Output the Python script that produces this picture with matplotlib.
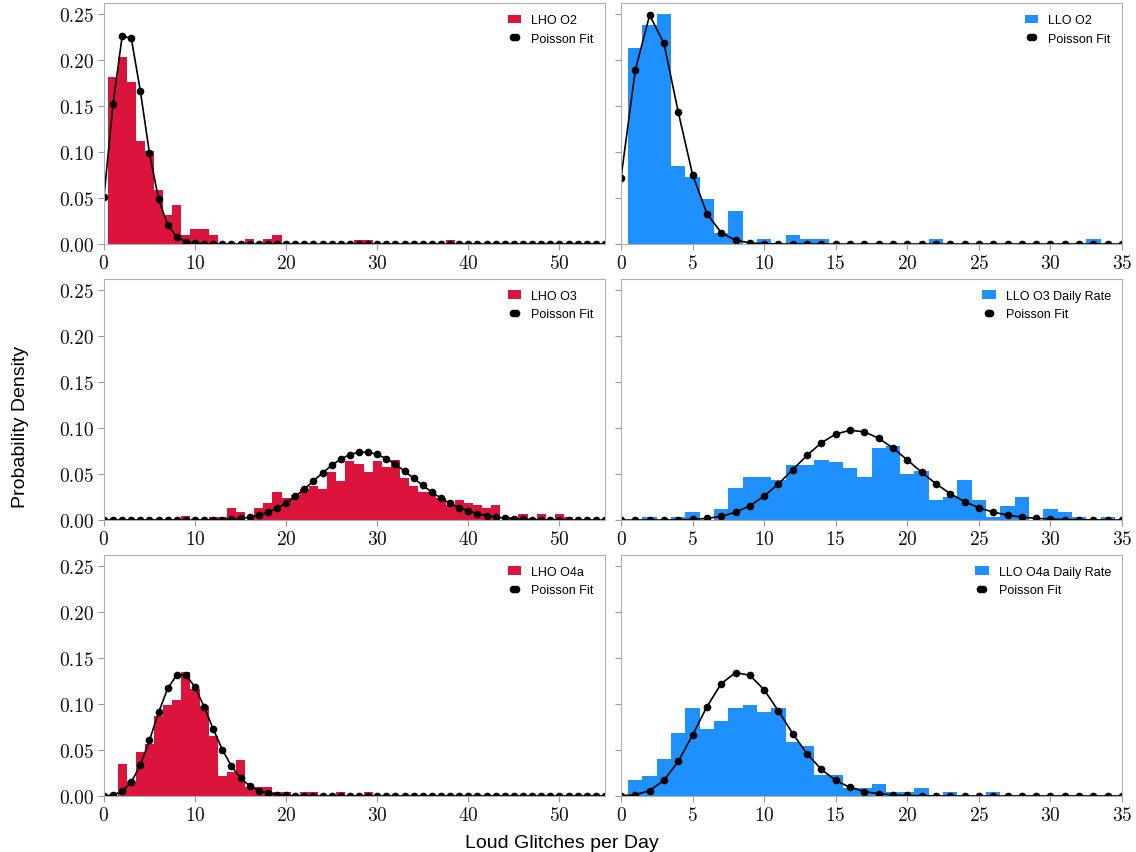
import numpy as np
import matplotlib
matplotlib.use("Agg")
import matplotlib.pyplot as plt
from matplotlib.legend_handler import HandlerLine2D

# daily loud-glitch histograms (density per integer day count, starting at 0)
lho_o2 = [0, 0.182, 0.204, 0.177, 0.112, 0.101, 0.059, 0.032, 0.043, 0.010,
          0.016, 0.016, 0.010, 0, 0, 0, 0.005, 0, 0.005, 0.010,
          0, 0, 0, 0, 0, 0, 0, 0, 0.004, 0.004,
          0, 0, 0, 0, 0, 0, 0, 0, 0.004]
llo_o2 = [0, 0.214, 0.239, 0.250, 0.0855, 0.0735, 0.049, 0.012, 0.036, 0,
          0.005, 0, 0.010, 0.005, 0.005, 0, 0, 0, 0, 0,
          0, 0, 0.005, 0, 0, 0, 0, 0, 0, 0,
          0, 0, 0, 0.005]
lho_o3 = [0, 0, 0, 0, 0, 0, 0, 0, 0, 0.004,
          0, 0, 0.003, 0.003, 0.013, 0.009, 0, 0.013, 0.0185, 0.030,
          0.024, 0.027, 0.034, 0.037, 0.034, 0.052, 0.043, 0.064, 0.0615, 0.052,
          0.064, 0.058, 0.065, 0.046, 0.037, 0.031, 0.031, 0.024, 0.016, 0.022,
          0.0185, 0.016, 0.013, 0.016, 0, 0.003, 0.006, 0, 0.006, 0,
          0.006, 0.003]
llo_o3 = [0, 0, 0.003, 0, 0.003, 0.009, 0, 0.012, 0.0345, 0.047,
          0.047, 0.0436, 0.0596, 0.0596, 0.0655, 0.063, 0.0564, 0.047, 0.078, 0.0807,
          0.050, 0.0535, 0.022, 0.025, 0.0436, 0.022, 0.003, 0.015, 0.025, 0,
          0.012, 0.009, 0.003, 0, 0.003]
lho_o4a = [0, 0, 0.0349, 0.0167, 0.0483, 0.0566, 0.0868, 0.0995, 0.104, 0.135,
           0.117, 0.0977, 0.065, 0.0218, 0.0258, 0.039, 0.0094, 0.0094, 0.0094, 0.0047,
           0.0047, 0, 0.0047, 0.0047, 0, 0, 0.0047, 0, 0, 0.0047]
llo_o4a = [0, 0.0175, 0.0219, 0.0405, 0.0682, 0.0953, 0.0726, 0.0818, 0.0953, 0.0996,
           0.0909, 0.0953, 0.0588, 0.054, 0.0223, 0.0223, 0.0091, 0.0091, 0.0135, 0.0044,
           0.0044, 0.0088, 0, 0.0044, 0, 0, 0.0044]

# Poisson fits evaluated at each integer day count
fit_lho_o2 = [0.0513, 0.1525, 0.2264, 0.2241, 0.1664, 0.0988, 0.0489, 0.0208, 0.0077, 0.0025,
              0.0008, 0.0002, 0.0001, 0, 0, 0, 0, 0, 0, 0,
              0, 0, 0, 0, 0, 0, 0, 0, 0, 0,
              0, 0, 0, 0, 0, 0, 0, 0, 0, 0,
              0, 0, 0, 0, 0, 0, 0, 0, 0, 0,
              0, 0, 0, 0, 0, 0]
fit_llo_o2 = [0.0721, 0.1896, 0.2493, 0.2186, 0.1437, 0.0756, 0.0331, 0.0124, 0.0041, 0.0012,
              0.0003, 0.0001, 0, 0, 0, 0, 0, 0, 0, 0,
              0, 0, 0, 0, 0, 0, 0, 0, 0, 0,
              0, 0, 0, 0, 0, 0]
fit_lho_o3 = [0, 0, 0, 0, 0, 0, 0, 0, 0, 0,
              0, 0.0001, 0.0002, 0.0004, 0.0009, 0.0017, 0.0030, 0.0052, 0.0084, 0.0128,
              0.0185, 0.0256, 0.0337, 0.0425, 0.0513, 0.0595, 0.0664, 0.0713, 0.0739, 0.0739,
              0.0714, 0.0668, 0.0605, 0.0532, 0.0454, 0.0376, 0.0303, 0.0237, 0.0181, 0.0135,
              0.0098, 0.0069, 0.0048, 0.0032, 0.0021, 0.0014, 0.0009, 0.0005, 0.0003, 0.0002,
              0.0001, 0, 0, 0, 0, 0]
fit_llo_o3 = [0, 0, 0, 0, 0.0002, 0.0007, 0.0017, 0.0040, 0.0084, 0.0155,
              0.0260, 0.0394, 0.0549, 0.0705, 0.0841, 0.0936, 0.0977, 0.0960, 0.0891, 0.0783,
              0.0654, 0.0520, 0.0395, 0.0287, 0.0199, 0.0133, 0.0086, 0.0053, 0.0032, 0.0018,
              0.0010, 0.0005, 0.0003, 0.0001, 0.0001, 0]
fit_lho_o4a = [0.0001, 0.0011, 0.0050, 0.0150, 0.0337, 0.0607, 0.0911, 0.1171, 0.1318, 0.1318,
               0.1186, 0.0970, 0.0728, 0.0504, 0.0324, 0.0194, 0.0109, 0.0058, 0.0029, 0.0014,
               0.0006, 0.0003, 0.0001, 0, 0, 0, 0, 0, 0, 0,
               0, 0, 0, 0, 0, 0, 0, 0, 0, 0,
               0, 0, 0, 0, 0, 0, 0, 0, 0, 0,
               0, 0, 0, 0, 0, 0]
fit_llo_o4a = [0.0002, 0.0013, 0.0058, 0.0171, 0.0377, 0.0663, 0.0972, 0.1222, 0.1344, 0.1314,
               0.1156, 0.0925, 0.0678, 0.0459, 0.0289, 0.0169, 0.0093, 0.0048, 0.0024, 0.0011,
               0.0005, 0.0002, 0.0001, 0, 0, 0, 0, 0, 0, 0,
               0, 0, 0, 0, 0, 0]

panels = [
    (lho_o2, fit_lho_o2, "LHO O2", "crimson", 55),
    (llo_o2, fit_llo_o2, "LLO O2", "dodgerblue", 35),
    (lho_o3, fit_lho_o3, "LHO O3", "crimson", 55),
    (llo_o3, fit_llo_o3, "LLO O3 Daily Rate", "dodgerblue", 35),
    (lho_o4a, fit_lho_o4a, "LHO O4a", "crimson", 55),
    (llo_o4a, fit_llo_o4a, "LLO O4a Daily Rate", "dodgerblue", 35),
]

plt.rcParams["font.family"] = "cmr10"
plt.rcParams["axes.formatter.use_mathtext"] = True
sans = {"family": "Liberation Sans"}

fig, axs = plt.subplots(3, 2, figsize=(11.36, 8.53), dpi=100, sharey=True)
fig.subplots_adjust(left=0.0915, right=0.9877, top=0.9953, bottom=0.0657,
                    wspace=0.032, hspace=0.145)

for ax, (hist, fit, label, color, xmax) in zip(axs.flat, panels):
    days = np.arange(len(hist))
    bars = ax.bar(days, hist, width=1.0, color=color, linewidth=0)
    k = np.arange(len(fit))
    line, = ax.plot(k, fit, "o-", color="black", lw=1.2, ms=4.5)
    ax.set_xlim(0, xmax)
    ax.set_ylim(0, 0.2625)
    ax.set_yticks([0, 0.05, 0.10, 0.15, 0.20, 0.25])
    ax.yaxis.set_major_formatter(matplotlib.ticker.FormatStrFormatter("%.2f"))
    ax.tick_params(labelsize=14, color="#999999", labelcolor="#111111", length=4)
    for s in ax.spines.values():
        s.set_color("#b0b0b0")
    ax.legend([bars, line], [label, "Poisson Fit"], loc="upper right", frameon=False,
              prop={**sans, "size": 9}, handlelength=1.1,
              handler_map={line: HandlerLine2D(numpoints=2, marker_pad=0.45)})

fig.text(0.018, 0.5, "Probability Density", rotation=90, va="center", ha="center",
         fontsize=14, **sans)
fig.text(0.495, 0.011, "Loud Glitches per Day", va="center", ha="center",
         fontsize=14, **sans)

plt.savefig("out.png")
